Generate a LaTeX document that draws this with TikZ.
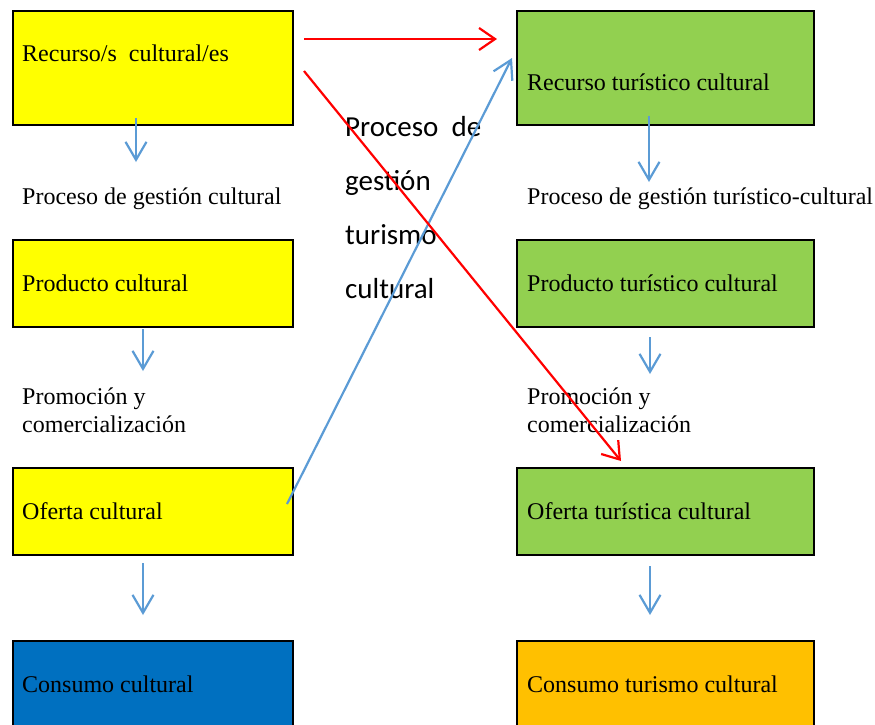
\documentclass[tikz,border=0pt]{standalone}
\usepackage{fontspec}
\setmainfont{Liberation Serif}
\newfontfamily\calib{Carlito}
\usetikzlibrary{arrows.meta}
\definecolor{cyel}{HTML}{FFFF00}
\definecolor{cgrn}{HTML}{92D050}
\definecolor{cblu}{HTML}{0070C0}
\definecolor{corg}{HTML}{FFC000}
\definecolor{carr}{HTML}{5B9BD5}
\definecolor{cred}{HTML}{FF0000}
\tikzset{
  box/.style={draw=black, line width=2pt, anchor=north west, inner sep=0pt, minimum width=#1},
  lbox/.style={box=280pt},
  rbox/.style={box=297pt},
  txt/.style={anchor=base west, inner sep=0pt, font=\fontsize{24}{26}\selectfont},
  side/.style={anchor=base west, inner sep=0pt, font=\calib\fontsize{29}{32}\selectfont},
  barr/.style={draw=carr, line width=2.2pt, -{Straight Barb[length=18pt,width=21pt]}},
  rarr/.style={draw=cred, line width=2.2pt, -{Straight Barb[length=16pt,width=22pt]}},
}
\begin{document}
\begin{tikzpicture}[x=1pt,y=-1pt]
\useasboundingbox (0,0) rectangle (875,724);
\clip (0,0) rectangle (875,724);
% left column boxes
\node[lbox, fill=cyel, minimum height=114pt] (L1) at (12,10) {};
\node[lbox, fill=cyel, minimum height=87pt] (L2) at (12,239) {};
\node[lbox, fill=cyel, minimum height=87pt] (L3) at (12,467) {};
\node[lbox, fill=cblu, minimum height=110pt] (L4) at (12,640) {};
% right column boxes
\node[rbox, fill=cgrn, minimum height=114pt] (R1) at (516,10) {};
\node[rbox, fill=cgrn, minimum height=87pt] (R2) at (516,239) {};
\node[rbox, fill=cgrn, minimum height=87pt] (R3) at (516,467) {};
\node[rbox, fill=corg, minimum height=110pt] (R4) at (516,640) {};
% box texts
\node[txt] (tL1) at (22,61) {Recurso/s\ \ cultural/es};
\node[txt] (tL2) at (22,291) {Producto cultural};
\node[txt] (tL3) at (22,519) {Oferta cultural};
\node[txt] (tL4) at (22,692) {Consumo cultural};
\node[txt] (tR1) at (527,90) {Recurso turístico cultural};
\node[txt] (tR2) at (527,291) {Producto turístico cultural};
\node[txt] (tR3) at (527,519) {Oferta turística cultural};
\node[txt] (tR4) at (527,692) {Consumo turismo cultural};
% process labels
\node[txt] (pL1) at (22,204) {Proceso de gestión cultural};
\node[txt] (pL2a) at (22,404) {Promoción y};
\node[txt] (pL2b) at (22,432) {comercialización};
\node[txt] (pR1) at (527,204) {Proceso de gestión turístico-cultural};
\node[txt] (pR2a) at (527,404) {Promoción y};
\node[txt] (pR2b) at (527,432) {comercialización};
% middle text
\node[side] (m1) at (345,136) {Proceso\ \ de};
\node[side] (m2) at (345,190) {gestión};
\node[side] (m3) at (345,244) {turismo};
\node[side] (m4) at (345,298) {cultural};
% blue vertical arrows
\coordinate (a1s) at (136,118); \coordinate (a1e) at (136,162);
\coordinate (a2s) at (143,329); \coordinate (a2e) at (143,371);
\coordinate (a3s) at (143,563); \coordinate (a3e) at (143,615);
\coordinate (b1s) at (649,116); \coordinate (b1e) at (649,182);
\coordinate (b2s) at (650,337); \coordinate (b2e) at (650,374);
\coordinate (b3s) at (650,566); \coordinate (b3e) at (650,615);
\draw[barr] (a1s) -- (a1e);
\draw[barr] (a2s) -- (a2e);
\draw[barr] (a3s) -- (a3e);
\draw[barr] (b1s) -- (b1e);
\draw[barr] (b2s) -- (b2e);
\draw[barr] (b3s) -- (b3e);
% cross arrows
\coordinate (r1s) at (304,39); \coordinate (r1e) at (497,39);
\coordinate (r2s) at (304,71); \coordinate (r2e) at (621,461);
\coordinate (bds) at (287,504); \coordinate (bde) at (512,58);
\draw[barr] (bds) -- (bde);
\draw[rarr] (r1s) -- (r1e);
\draw[rarr] (r2s) -- (r2e);
\end{tikzpicture}
\end{document}
